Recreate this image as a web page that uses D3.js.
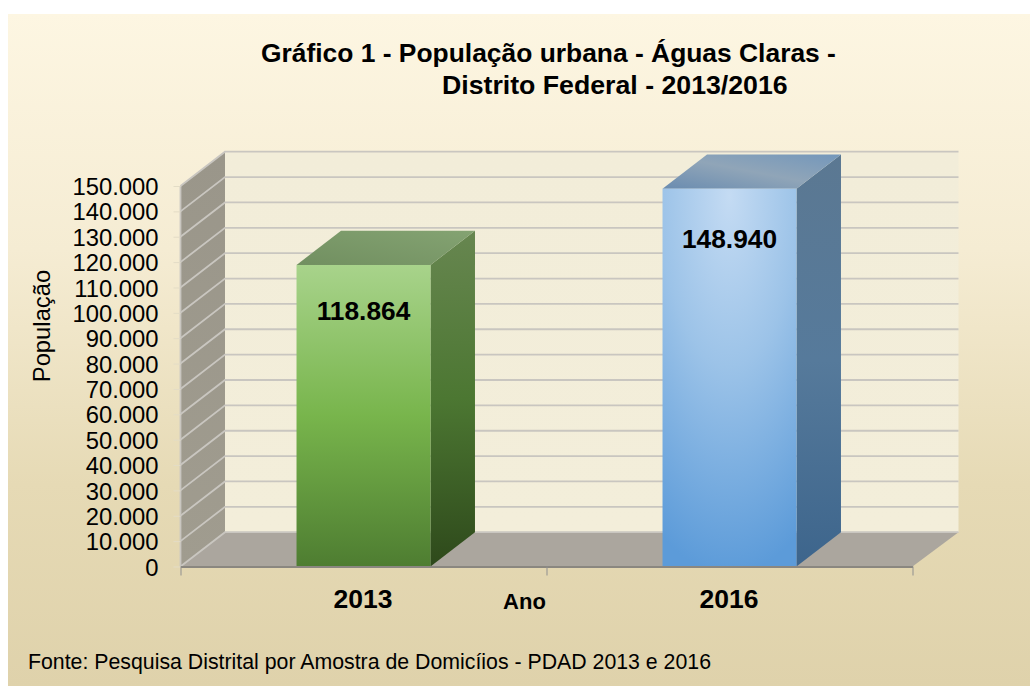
<!DOCTYPE html>
<html>
<head>
<meta charset="utf-8">
<script src="https://cdnjs.cloudflare.com/ajax/libs/d3/7.8.5/d3.min.js"></script>
<style>
    html, body { margin: 0; padding: 0; background: #fff; }
    svg { display: block; }
    text { font-family: "Liberation Sans", Arial, sans-serif; fill: #000; }
</style>
</head>
<body>
<div id="chart"></div>
<script>
// Chart data
const years = ['2013', '2016'];
const population = [118864, 148940];
const valueLabels = ['118.864', '148.940'];
const tickValues = [0, 10000, 20000, 30000, 40000, 50000, 60000, 70000, 80000, 90000, 100000, 110000, 120000, 130000, 140000, 150000];
const titleLines = ['Gráfico 1 - População urbana - Águas Claras -', 'Distrito Federal - 2013/2016'];
const sourceText = 'Fonte: Pesquisa Distrital por Amostra de Domicíios - PDAD 2013 e 2016';

const width = 1030;
const height = 686;

// Front plane of the fake 3D box, and how far back the depth goes
const plot = { left: 180.5, right: 912.5, top: 186, bottom: 566.5 };
const depth = { x: 44.5, y: -34.3 };

const svg = d3.select('#chart')
    .append('svg')
    .attr('width', width)
    .attr('height', height);

const defs = svg.append('defs');

function linearGradient(id, coords, stops) {
    const g = defs.append('linearGradient').attr('id', id)
        .attr('x1', coords[0]).attr('y1', coords[1])
        .attr('x2', coords[2]).attr('y2', coords[3]);
    stops.forEach(s => g.append('stop').attr('offset', s[0]).attr('stop-color', s[1]));
}

linearGradient('panelFill', [0, 0, 0, 1], [[0, '#fdf6e2'], [0.35, '#f5ecd3'], [0.7, '#e6dab5'], [1, '#dfd2ab']]);
linearGradient('wallFill', [0, 0, 0, 1], [[0, '#f2edd9'], [1, '#f3eeda']]);
linearGradient('sideWallFill', [0, 0, 0, 1], [[0, '#9a968a'], [1, '#a09c8f']]);
linearGradient('greenFront', [0, 0, 0, 1], [[0, '#a8d38b'], [0.5, '#78b54c'], [1, '#4e7d31']]);
linearGradient('greenSide', [0, 0, 0, 1], [[0, '#678650'], [0.5, '#4c7732'], [1, '#2e491b']]);
linearGradient('greenTop', [0, 1, 1, 0], [[0, '#718f60'], [1, '#84a372']]);
linearGradient('blueSide', [0, 0, 0, 1], [[0, '#5b7892'], [0.5, '#567a9b'], [1, '#3d658c']]);
linearGradient('blueTop', [0, 1, 1, 0], [[0, '#6a8cb0'], [0.5, '#90a5b8'], [1, '#7397bb']]);

const blueFront = defs.append('radialGradient').attr('id', 'blueFront')
    .attr('cx', 0.5).attr('cy', 0.02).attr('r', 1.0)
    .attr('gradientTransform', 'translate(0.5 0.02) scale(1.15 1) translate(-0.5 -0.02)');
blueFront.append('stop').attr('offset', 0).attr('stop-color', '#c4dbf3');
blueFront.append('stop').attr('offset', 0.45).attr('stop-color', '#9cc3e8');
blueFront.append('stop').attr('offset', 1).attr('stop-color', '#5c9bd9');

// Scales
const y = d3.scaleLinear().domain([0, 150000]).range([plot.bottom, plot.top]);
const x = d3.scaleBand().domain(years).range([plot.left, plot.right])
    .paddingInner(0.634).paddingOuter(0.317);
const slots = d3.scaleLinear().domain([0, years.length]).range([plot.left, plot.right]);

const ptBr = d3.formatLocale({ decimal: ',', thousands: '.', grouping: [3], currency: ['R$', ''] });
const fmt = ptBr.format(',d');

const poly = pts => pts.map(p => p.join(',')).join(' ');

// Background panel
svg.append('rect')
    .attr('x', 8).attr('y', 14)
    .attr('width', width - 8).attr('height', height - 14)
    .attr('fill', 'url(#panelFill)');

// Back wall, side wall, floor
const backLeft = plot.left + depth.x;
const backRight = plot.right + depth.x + 1.5;

svg.append('rect')
    .attr('x', backLeft).attr('y', plot.top + depth.y)
    .attr('width', backRight - backLeft).attr('height', plot.bottom - plot.top)
    .attr('fill', 'url(#wallFill)');

svg.append('polygon')
    .attr('points', poly([[plot.left, plot.top], [backLeft, plot.top + depth.y], [backLeft, plot.bottom + depth.y], [plot.left, plot.bottom]]))
    .attr('fill', 'url(#sideWallFill)');

svg.append('polygon')
    .attr('points', poly([[plot.left, plot.bottom], [backLeft, plot.bottom + depth.y], [backRight, plot.bottom + depth.y], [plot.right, plot.bottom]]))
    .attr('fill', '#aba69e');

// Gridlines on side and back wall
const grid = svg.append('g').attr('fill', 'none').attr('stroke', '#c9c6c0').attr('stroke-width', 1.8);
tickValues.forEach(v => {
    grid.append('polyline')
        .attr('points', poly([[plot.left, y(v)], [backLeft, y(v) + depth.y], [backRight, y(v) + depth.y]]));
});
svg.append('line')
    .attr('x1', plot.left).attr('x2', plot.left)
    .attr('y1', plot.top).attr('y2', plot.bottom)
    .attr('stroke', '#c9c6c0').attr('stroke-width', 1.8);

// Y axis
const yAxis = svg.append('g')
    .attr('transform', `translate(${plot.left},0)`)
    .call(d3.axisLeft(y).tickValues(tickValues).tickFormat(fmt).tickSize(7).tickPadding(15));
yAxis.select('.domain').remove();
yAxis.selectAll('.tick line').attr('stroke', '#e3dcc6').attr('stroke-width', 1);
yAxis.selectAll('.tick text')
    .attr('font-family', '"Liberation Sans", Arial, sans-serif')
    .attr('font-size', 23.8)
    .attr('fill', '#000')
    .attr('y', 1);

// Bars
const fills = [
    { front: 'url(#greenFront)', side: 'url(#greenSide)', top: 'url(#greenTop)', labelDrop: 55 },
    { front: 'url(#blueFront)', side: 'url(#blueSide)', top: 'url(#blueTop)', labelDrop: 59.5 }
];

const bars = svg.selectAll('.bar')
    .data(years.map((year, i) => ({ year, value: population[i], label: valueLabels[i], fill: fills[i] })))
    .enter()
    .append('g')
    .attr('class', 'bar');

bars.append('polygon')
    .attr('points', d => {
        const x0 = x(d.year) + x.bandwidth(), top = y(d.value);
        return poly([[x0, top], [x0 + depth.x, top + depth.y], [x0 + depth.x, plot.bottom + depth.y], [x0, plot.bottom]]);
    })
    .attr('fill', d => d.fill.side);

bars.append('polygon')
    .attr('points', d => {
        const x0 = x(d.year), x1 = x0 + x.bandwidth(), top = y(d.value);
        return poly([[x0, top], [x0 + depth.x, top + depth.y], [x1 + depth.x, top + depth.y], [x1, top]]);
    })
    .attr('fill', d => d.fill.top);

bars.append('rect')
    .attr('x', d => x(d.year))
    .attr('y', d => y(d.value))
    .attr('width', x.bandwidth())
    .attr('height', d => plot.bottom - y(d.value))
    .attr('fill', d => d.fill.front);

// Value labels sit a little way below the top of each bar
bars.append('text')
    .attr('x', d => x(d.year) + x.bandwidth() / 2)
    .attr('y', d => y(d.value) + d.fill.labelDrop)
    .attr('text-anchor', 'middle')
    .attr('font-size', 26.3)
    .attr('font-weight', 'bold')
    .text(d => d.label);

// X axis with ticks on the category boundaries
const xAxis = svg.append('g')
    .attr('transform', `translate(0,${plot.bottom})`)
    .call(d3.axisBottom(slots).tickValues([0, 1, 2]).tickFormat('').tickSize(9).tickSizeOuter(0));
xAxis.select('.domain').attr('stroke', '#8a8780').attr('stroke-width', 2);
xAxis.selectAll('.tick line').attr('stroke', '#8f8f8f').attr('stroke-width', 1);

svg.selectAll('.year-label')
    .data(years)
    .enter()
    .append('text')
    .attr('class', 'year-label')
    .attr('x', d => x(d) + x.bandwidth() / 2 - 0.5)
    .attr('y', 607.5)
    .attr('text-anchor', 'middle')
    .attr('font-size', 26.5)
    .attr('font-weight', 'bold')
    .text(d => d);

// Axis titles
svg.append('text')
    .attr('x', 524.5).attr('y', 608.5)
    .attr('text-anchor', 'middle')
    .attr('font-size', 22)
    .attr('font-weight', 'bold')
    .text('Ano');

svg.append('text')
    .attr('transform', 'translate(50,326) rotate(-90)')
    .attr('text-anchor', 'middle')
    .attr('font-size', 23.8)
    .text('População');

// Title
svg.append('text')
    .attr('x', 261).attr('y', 62)
    .attr('font-size', 26.4)
    .attr('font-weight', 'bold')
    .text(titleLines[0]);

svg.append('text')
    .attr('x', 442).attr('y', 94)
    .attr('font-size', 26.7)
    .attr('font-weight', 'bold')
    .text(titleLines[1]);

// Source
svg.append('text')
    .attr('x', 28).attr('y', 669)
    .attr('font-size', 21.3)
    .text(sourceText);
</script>
</body>
</html>
